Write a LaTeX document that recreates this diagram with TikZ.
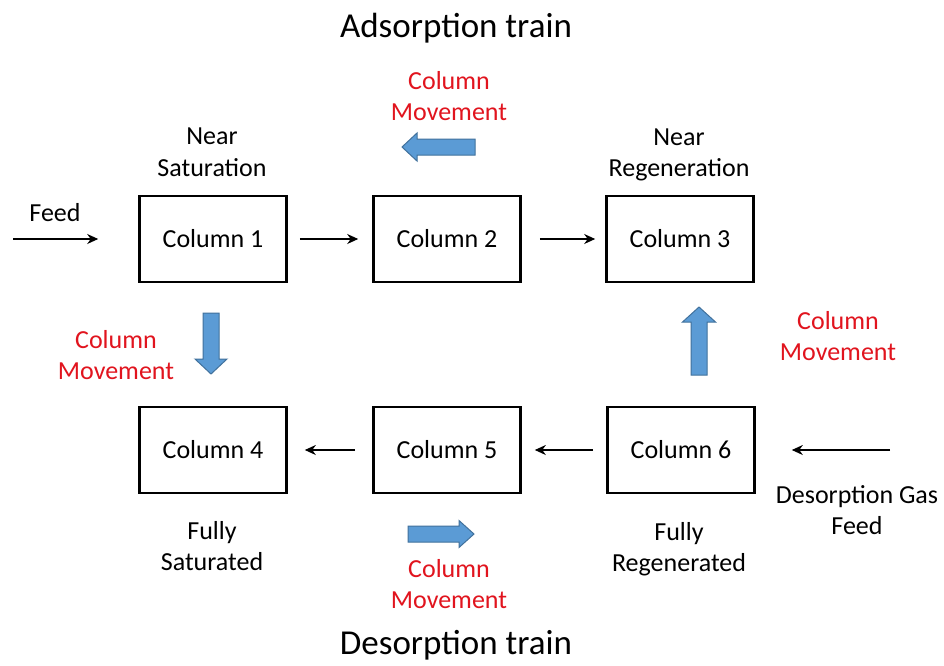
\documentclass[tikz,border=0pt]{standalone}
\usepackage{fontspec}
\setmainfont{Carlito}
\usetikzlibrary{arrows.meta}
\definecolor{movered}{RGB}{225,20,30}
\definecolor{arrowfill}{HTML}{5B9BD5}
\definecolor{arrowedge}{HTML}{41719C}
% block arrow: tail at (#1,#2), turned by #3 degrees, length #4, head width #5
\newcommand\movearrow[5]{%
  \begin{scope}[shift={(#1,#2)}, rotate=#3]
    \draw[blockarrow] (0,-8) -- (#4-15,-8) -- (#4-15,-#5/2) -- (#4,0)
      -- (#4-15,#5/2) -- (#4-15,8) -- (0,8) -- cycle;
  \end{scope}}
\begin{document}
\begin{tikzpicture}[x=1pt,y=-1pt,
  colbox/.style={draw, line width=2.6pt, minimum width=147pt, minimum height=86pt,
    inner sep=0, font=\fontsize{26}{31}\selectfont},
  note/.style={align=center, font=\fontsize{26}{31.5}\selectfont, inner sep=0},
  movenote/.style={note, text=movered},
  heading/.style={font=\fontsize{35}{42}\selectfont, inner sep=0},
  flow/.style={line width=1.3pt, -{Stealth[length=11pt,width=10pt,inset=3.5pt]}},
  blockarrow/.style={fill=arrowfill, draw=arrowedge, line width=1pt, line join=miter}]
  \fill[white] (0,0) rectangle (944,665);
  \useasboundingbox (0,0) rectangle (944,665);

  % titles
  \node[heading] (adtitle) at (456,28) {Adsorption train};
  \node[heading] (detitle) at (456,645) {Desorption train};

  % columns
  \node[colbox] (c1) at (213,239) {Column 1};
  \node[colbox] (c2) at (447,239) {Column 2};
  \node[colbox] (c3) at (680,239) {Column 3};
  \node[colbox] (c4) at (213,450) {Column 4};
  \node[colbox] (c5) at (447,450) {Column 5};
  \node[colbox] (c6) at (681,450) {Column 6};

  % state labels
  \node[note] (s1) at (212,152) {Near\\Saturation};
  \node[note] (s3) at (679,155) {Near\\Regeneration};
  \node[note] (s4) at (212,546) {Fully\\Saturated};
  \node[note] (s6) at (679,549) {Fully\\Regenerated};

  % feeds
  \node[note] (feedtxt) at (55,213) {Feed};
  \node[note] (gastxt) at (857,510) {Desorption Gas\\Feed};
  \coordinate (feedin) at (13,239);
  \coordinate (gasin) at (890,450);
  \draw[flow, shorten >=40pt] (feedin) -- (c1.west);
  \draw[flow, shorten >=36pt] (gasin) -- (c6.east);

  % flow between columns
  \draw[flow, shorten <=12pt, shorten >=14pt] (c1.east) -- (c2.west);
  \draw[flow, shorten <=18pt, shorten >=10pt] (c2.east) -- (c3.west);
  \draw[flow, shorten <=13pt, shorten >=13pt] (c6.west) -- (c5.east);
  \draw[flow, shorten <=17pt, shorten >=17pt] (c5.west) -- (c4.east);

  % column movement
  \node[movenote] (m1) at (449,96) {Column\\Movement};
  \node[movenote] (m2) at (116,355) {Column\\Movement};
  \node[movenote] (m3) at (838,336) {Column\\Movement};
  \node[movenote] (m4) at (449,584) {Column\\Movement};
  \movearrow{475}{147}{180}{73}{28}
  \movearrow{211}{313}{-90}{61}{32}
  \movearrow{699}{375}{90}{68}{33}
  \movearrow{408}{534}{0}{66}{27}
\end{tikzpicture}
\end{document}
